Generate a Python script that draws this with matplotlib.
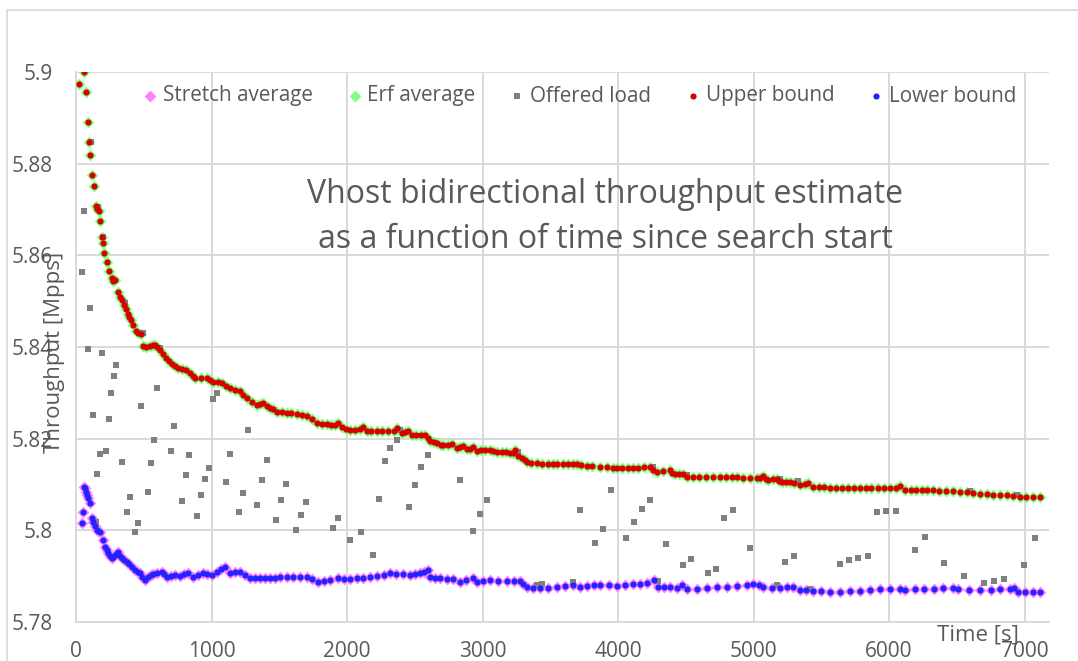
import matplotlib
matplotlib.use("Agg")
import matplotlib.pyplot as plt
from matplotlib.patches import Rectangle
from matplotlib.ticker import FuncFormatter

plt.rcParams['font.family'] = ['Open Sans', 'DejaVu Sans']

# upper bound (red): time [s], throughput [Mpps]
upper_t = [24, 59, 74, 89, 98, 106, 118, 130, 148, 158, 167, 177, 190, 197, 209, 229, 246, 265, 275, 290,
           310, 325, 340, 354, 368, 381, 393, 404, 423, 445, 460, 478, 497, 520, 545, 565, 583, 600, 620, 640,
           664, 685, 706, 730, 755, 785, 812, 841, 860, 878, 920, 964, 990, 1014, 1045, 1075, 1105, 1137, 1175, 1210,
           1235, 1260, 1300, 1334, 1360, 1382, 1410, 1432, 1455, 1481, 1520, 1555, 1590, 1629, 1665, 1703, 1740, 1776, 1815, 1850,
           1880, 1911, 1936, 1961, 1990, 2022, 2060, 2095, 2120, 2146, 2180, 2220, 2260, 2300, 2343, 2367, 2403, 2430, 2452, 2477,
           2510, 2545, 2576, 2595, 2613, 2640, 2662, 2690, 2711, 2745, 2773, 2810, 2835, 2858, 2883, 2910, 2932, 2957, 2990, 3020,
           3055, 3080, 3105, 3140, 3175, 3205, 3227, 3240, 3265, 3289, 3310, 3326, 3360, 3400, 3440, 3480, 3520, 3548, 3590, 3630,
           3665, 3695, 3730, 3769, 3810, 3867, 3920, 3960, 3990, 4030, 4070, 4113, 4150, 4190, 4236, 4260, 4285, 4330, 4384, 4400,
           4421, 4450, 4482, 4507, 4550, 4600, 4650, 4704, 4750, 4800, 4840, 4876, 4925, 4970, 5024, 5050, 5073, 5090, 5110, 5140,
           5171, 5190, 5208, 5240, 5269, 5300, 5343, 5380, 5405, 5441, 5480, 5520, 5565, 5610, 5650, 5700, 5740, 5786, 5830, 5870,
           5920, 5960, 6007, 6050, 6081, 6118, 6160, 6200, 6240, 6280, 6327, 6370, 6420, 6475, 6520, 6573, 6620, 6672, 6720, 6770,
           6820, 6869, 6918, 6967, 7010, 7060, 7114]
upper_v = [5.8973, 5.9000, 5.8956, 5.8892, 5.8848, 5.8820, 5.8775, 5.8752, 5.8708, 5.8702, 5.8697, 5.8676, 5.8639, 5.8628, 5.8606, 5.8585, 5.8565, 5.8550, 5.8545, 5.8546,
           5.8520, 5.8510, 5.8502, 5.8492, 5.8483, 5.8473, 5.8466, 5.8459, 5.8448, 5.8436, 5.8430, 5.8428, 5.8402, 5.8401, 5.8402, 5.8404, 5.8404, 5.8400, 5.8393, 5.8385,
           5.8375, 5.8369, 5.8364, 5.8358, 5.8354, 5.8351, 5.8350, 5.8343, 5.8337, 5.8332, 5.8332, 5.8332, 5.8328, 5.8324, 5.8323, 5.8322, 5.8316, 5.8310, 5.8307, 5.8303,
           5.8296, 5.8288, 5.8280, 5.8273, 5.8276, 5.8277, 5.8272, 5.8268, 5.8264, 5.8259, 5.8258, 5.8257, 5.8256, 5.8254, 5.8252, 5.8249, 5.8242, 5.8235, 5.8233, 5.8232,
           5.8230, 5.8230, 5.8234, 5.8225, 5.8222, 5.8220, 5.8220, 5.8221, 5.8225, 5.8217, 5.8217, 5.8217, 5.8217, 5.8217, 5.8217, 5.8224, 5.8213, 5.8214, 5.8217, 5.8208,
           5.8208, 5.8208, 5.8208, 5.8202, 5.8196, 5.8192, 5.8190, 5.8187, 5.8186, 5.8186, 5.8188, 5.8180, 5.8182, 5.8185, 5.8177, 5.8178, 5.8182, 5.8174, 5.8175, 5.8175,
           5.8175, 5.8173, 5.8172, 5.8171, 5.8170, 5.8168, 5.8168, 5.8175, 5.8163, 5.8157, 5.8153, 5.8150, 5.8148, 5.8146, 5.8145, 5.8144, 5.8144, 5.8144, 5.8144, 5.8144,
           5.8144, 5.8144, 5.8142, 5.8141, 5.8140, 5.8139, 5.8138, 5.8137, 5.8137, 5.8137, 5.8137, 5.8137, 5.8137, 5.8138, 5.8138, 5.8132, 5.8128, 5.8129, 5.8132, 5.8126,
           5.8123, 5.8124, 5.8124, 5.8117, 5.8117, 5.8117, 5.8117, 5.8117, 5.8117, 5.8117, 5.8117, 5.8117, 5.8115, 5.8114, 5.8114, 5.8114, 5.8119, 5.8113, 5.8110, 5.8111,
           5.8112, 5.8108, 5.8105, 5.8106, 5.8106, 5.8104, 5.8099, 5.8102, 5.8104, 5.8095, 5.8094, 5.8094, 5.8093, 5.8093, 5.8092, 5.8092, 5.8092, 5.8092, 5.8092, 5.8092,
           5.8092, 5.8092, 5.8092, 5.8093, 5.8097, 5.8088, 5.8088, 5.8088, 5.8087, 5.8087, 5.8087, 5.8086, 5.8086, 5.8085, 5.8084, 5.8083, 5.8082, 5.8080, 5.8079, 5.8078,
           5.8078, 5.8077, 5.8075, 5.8072, 5.8072, 5.8072, 5.8072]

# lower bound (blue)
lower_t = [42, 49, 59, 66, 74, 83, 91, 103, 116, 128, 140, 152, 165, 177, 197, 214, 226, 238, 250, 263,
           275, 288, 300, 312, 325, 337, 355, 374, 392, 411, 435, 455, 472, 490, 509, 534, 550, 570, 600, 632,
           650, 669, 700, 731, 768, 800, 829, 866, 900, 940, 970, 1001, 1038, 1070, 1100, 1137, 1175, 1210, 1250, 1284,
           1320, 1358, 1395, 1432, 1470, 1506, 1555, 1604, 1650, 1703, 1745, 1789, 1830, 1875, 1936, 1980, 2022, 2070, 2120, 2170,
           2219, 2270, 2317, 2365, 2416, 2465, 2500, 2539, 2570, 2595, 2613, 2650, 2686, 2735, 2785, 2834, 2880, 2932, 2957, 3005,
           3055, 3115, 3179, 3230, 3277, 3300, 3326, 3375, 3424, 3485, 3548, 3610, 3670, 3720, 3769, 3820, 3867, 3930, 3990, 4050,
           4113, 4165, 4212, 4266, 4298, 4340, 4384, 4433, 4470, 4507, 4580, 4654, 4730, 4802, 4875, 4950, 4999, 5040, 5073, 5135,
           5196, 5245, 5294, 5343, 5390, 5441, 5500, 5565, 5640, 5710, 5786, 5860, 5930, 6007, 6081, 6118, 6190, 6260, 6330, 6401,
           6475, 6512, 6590, 6672, 6750, 6820, 6893, 6922, 6954, 7000, 7060, 7114]
lower_v = [5.8015, 5.8041, 5.8095, 5.8092, 5.8084, 5.8077, 5.8070, 5.8059, 5.8026, 5.8019, 5.8010, 5.8001, 5.7999, 5.7997, 5.7979, 5.7963, 5.7957, 5.7950, 5.7944, 5.7939,
           5.7942, 5.7946, 5.7950, 5.7953, 5.7945, 5.7939, 5.7936, 5.7932, 5.7926, 5.7921, 5.7914, 5.7910, 5.7906, 5.7898, 5.7892, 5.7899, 5.7902, 5.7905, 5.7908, 5.7910,
           5.7905, 5.7899, 5.7901, 5.7903, 5.7900, 5.7904, 5.7908, 5.7899, 5.7902, 5.7906, 5.7904, 5.7903, 5.7910, 5.7915, 5.7921, 5.7908, 5.7909, 5.7910, 5.7903, 5.7895,
           5.7896, 5.7897, 5.7896, 5.7895, 5.7897, 5.7899, 5.7899, 5.7899, 5.7899, 5.7899, 5.7894, 5.7888, 5.7890, 5.7892, 5.7895, 5.7893, 5.7893, 5.7895, 5.7897, 5.7898,
           5.7900, 5.7903, 5.7906, 5.7905, 5.7905, 5.7903, 5.7904, 5.7906, 5.7909, 5.7913, 5.7899, 5.7897, 5.7895, 5.7894, 5.7893, 5.7888, 5.7891, 5.7895, 5.7888, 5.7890,
           5.7892, 5.7890, 5.7890, 5.7890, 5.7890, 5.7883, 5.7876, 5.7874, 5.7874, 5.7875, 5.7877, 5.7879, 5.7881, 5.7877, 5.7879, 5.7880, 5.7881, 5.7880, 5.7879, 5.7880,
           5.7882, 5.7884, 5.7886, 5.7892, 5.7877, 5.7877, 5.7877, 5.7874, 5.7881, 5.7872, 5.7873, 5.7874, 5.7876, 5.7877, 5.7879, 5.7881, 5.7883, 5.7880, 5.7877, 5.7875,
           5.7874, 5.7876, 5.7877, 5.7870, 5.7869, 5.7868, 5.7867, 5.7866, 5.7866, 5.7867, 5.7868, 5.7869, 5.7871, 5.7872, 5.7872, 5.7870, 5.7871, 5.7872, 5.7873, 5.7874,
           5.7874, 5.7872, 5.7870, 5.7869, 5.7870, 5.7871, 5.7872, 5.7874, 5.7865, 5.7865, 5.7866, 5.7866]

# the two averages sit under the bounds and cannot be told apart at this scale
erf_t, erf_v = upper_t, upper_v
stretch_t, stretch_v = lower_t, lower_v

# offered load (grey squares)
offered_t = [44, 59, 89, 103, 108, 125, 148, 155, 165, 177, 192, 197, 221, 244, 258, 278, 295, 339, 362, 376,
             396, 435, 458, 480, 492, 531, 551, 576, 598, 620, 701, 723, 782, 812, 834, 890, 923, 952, 982, 1011,
             1041, 1107, 1134, 1203, 1230, 1269, 1336, 1370, 1410, 1476, 1511, 1548, 1624, 1661, 1697, 1894, 1934, 2022, 2103, 2189,
             2236, 2280, 2317, 2369, 2391, 2458, 2502, 2546, 2598, 2834, 2930, 2982, 3033, 3264, 3400, 3440, 3670, 3717, 3830, 3889,
             3948, 4059, 4118, 4177, 4236, 4258, 4295, 4354, 4480, 4507, 4539, 4664, 4723, 4782, 4849, 4974, 5171, 5196, 5232, 5299,
             5328, 5417, 5638, 5705, 5771, 5845, 5911, 5978, 6052, 6192, 6266, 6406, 6554, 6598, 6701, 6775, 6849, 6942, 6996, 7077]
offered_v = [5.8564, 5.8697, 5.8395, 5.8486, 5.8848, 5.8252, 5.8019, 5.8123, 5.8706, 5.8167, 5.8388, 5.8639, 5.8173, 5.8244, 5.8300, 5.8337, 5.8361, 5.8149, 5.8496, 5.8040,
             5.8073, 5.7997, 5.8017, 5.8271, 5.8430, 5.8084, 5.8147, 5.8197, 5.8311, 5.8398, 5.8173, 5.8228, 5.8065, 5.8121, 5.8164, 5.8031, 5.8078, 5.8112, 5.8137, 5.8287,
             5.8300, 5.8106, 5.8167, 5.8039, 5.8081, 5.8220, 5.8056, 5.8110, 5.8153, 5.8023, 5.8066, 5.8101, 5.8001, 5.8034, 5.8062, 5.8006, 5.8028, 5.7978, 5.7997, 5.7946,
             5.8068, 5.8152, 5.8180, 5.8197, 5.8220, 5.8051, 5.8100, 5.8139, 5.8164, 5.8110, 5.7999, 5.8036, 5.8066, 5.8172, 5.7881, 5.7884, 5.7888, 5.8044, 5.7973, 5.8004,
             5.8088, 5.7984, 5.8018, 5.8047, 5.8067, 5.8138, 5.7890, 5.7970, 5.7925, 5.8120, 5.7937, 5.7906, 5.7916, 5.8028, 5.8045, 5.7962, 5.7880, 5.8112, 5.7932, 5.7945,
             5.8107, 5.7872, 5.7927, 5.7935, 5.7940, 5.7943, 5.8041, 5.8043, 5.8043, 5.7957, 5.7986, 5.7929, 5.7900, 5.8085, 5.7885, 5.7889, 5.7894, 5.8078, 5.7924, 5.7984]

x_ticks = [0, 1000, 2000, 3000, 4000, 5000, 6000, 7000]
y_ticks = [5.78, 5.80, 5.82, 5.84, 5.86, 5.88, 5.90]

W, H = 1078, 661
text_col = '#595959'
grid_col = '#d9d9d9'

fig = plt.figure(figsize=(W / 100, H / 100), dpi=100)
ax = fig.add_axes([76 / W, 1 - 622 / H, (1049 - 76) / W, (622 - 72) / H])

# outer chart border
fig.patches.append(Rectangle((7 / W, -0.1), 2, 1 - 10 / H + 0.1, transform=fig.transFigure,
                             fill=False, edgecolor=grid_col, linewidth=1.2))

ax.scatter(stretch_t, stretch_v, marker='D', s=36, color='#ff80ff', linewidths=0, label='Stretch average', zorder=2)
ax.scatter(erf_t, erf_v, marker='D', s=36, color='#80ff80', linewidths=0, label='Erf average', zorder=3)
ax.scatter(offered_t, offered_v, marker='s', s=22, color='#808080', linewidths=0, label='Offered load', zorder=4)
ax.scatter(upper_t, upper_v, marker='o', s=20, color='#d80000', linewidths=0, label='Upper bound', zorder=5)
ax.scatter(lower_t, lower_v, marker='o', s=20, color='#2323ff', linewidths=0, label='Lower bound', zorder=6)

ax.set_xlim(0, 7180)
ax.set_ylim(5.78, 5.9)
ax.set_xticks(x_ticks)
ax.set_yticks(y_ticks)
ax.yaxis.set_major_formatter(FuncFormatter(lambda v, p: '%g' % round(v, 2)))
ax.tick_params(length=0, labelsize=15, labelcolor=text_col)
ax.tick_params(axis='y', pad=17)
ax.tick_params(axis='x', pad=14)
ax.grid(True, color=grid_col, linewidth=1.4)
ax.set_axisbelow(True)
for side in ['top', 'right']:
    ax.spines[side].set_visible(False)
for side in ['left', 'bottom']:
    ax.spines[side].set_color(grid_col)
    ax.spines[side].set_linewidth(1.4)

ax.set_ylabel('Throughput [Mpps]', fontsize=16, color=text_col)
ax.yaxis.set_label_coords((65 - 76) / (1049 - 76), 0.49)
fig.text(978 / W, 1 - 635 / H, 'Time [s]', fontsize=16, color=text_col, ha='center', va='center')

ax.text(0.5437, 0.737, 'Vhost bidirectional throughput estimate\nas a function of time since search start',
        transform=ax.transAxes, ha='center', va='center', fontsize=23, color=text_col, linespacing=1.48)

leg = ax.legend(loc='center left', bbox_to_anchor=((144 - 76) / 973, (622 - 96) / 550), ncol=5,
                frameon=False, fontsize=14.9, handlelength=0.6, handletextpad=0.3, columnspacing=1.74,
                borderpad=0, borderaxespad=0, markerscale=1.0)
for t in leg.get_texts():
    t.set_color(text_col)

fig.savefig('out.png', dpi=100)
